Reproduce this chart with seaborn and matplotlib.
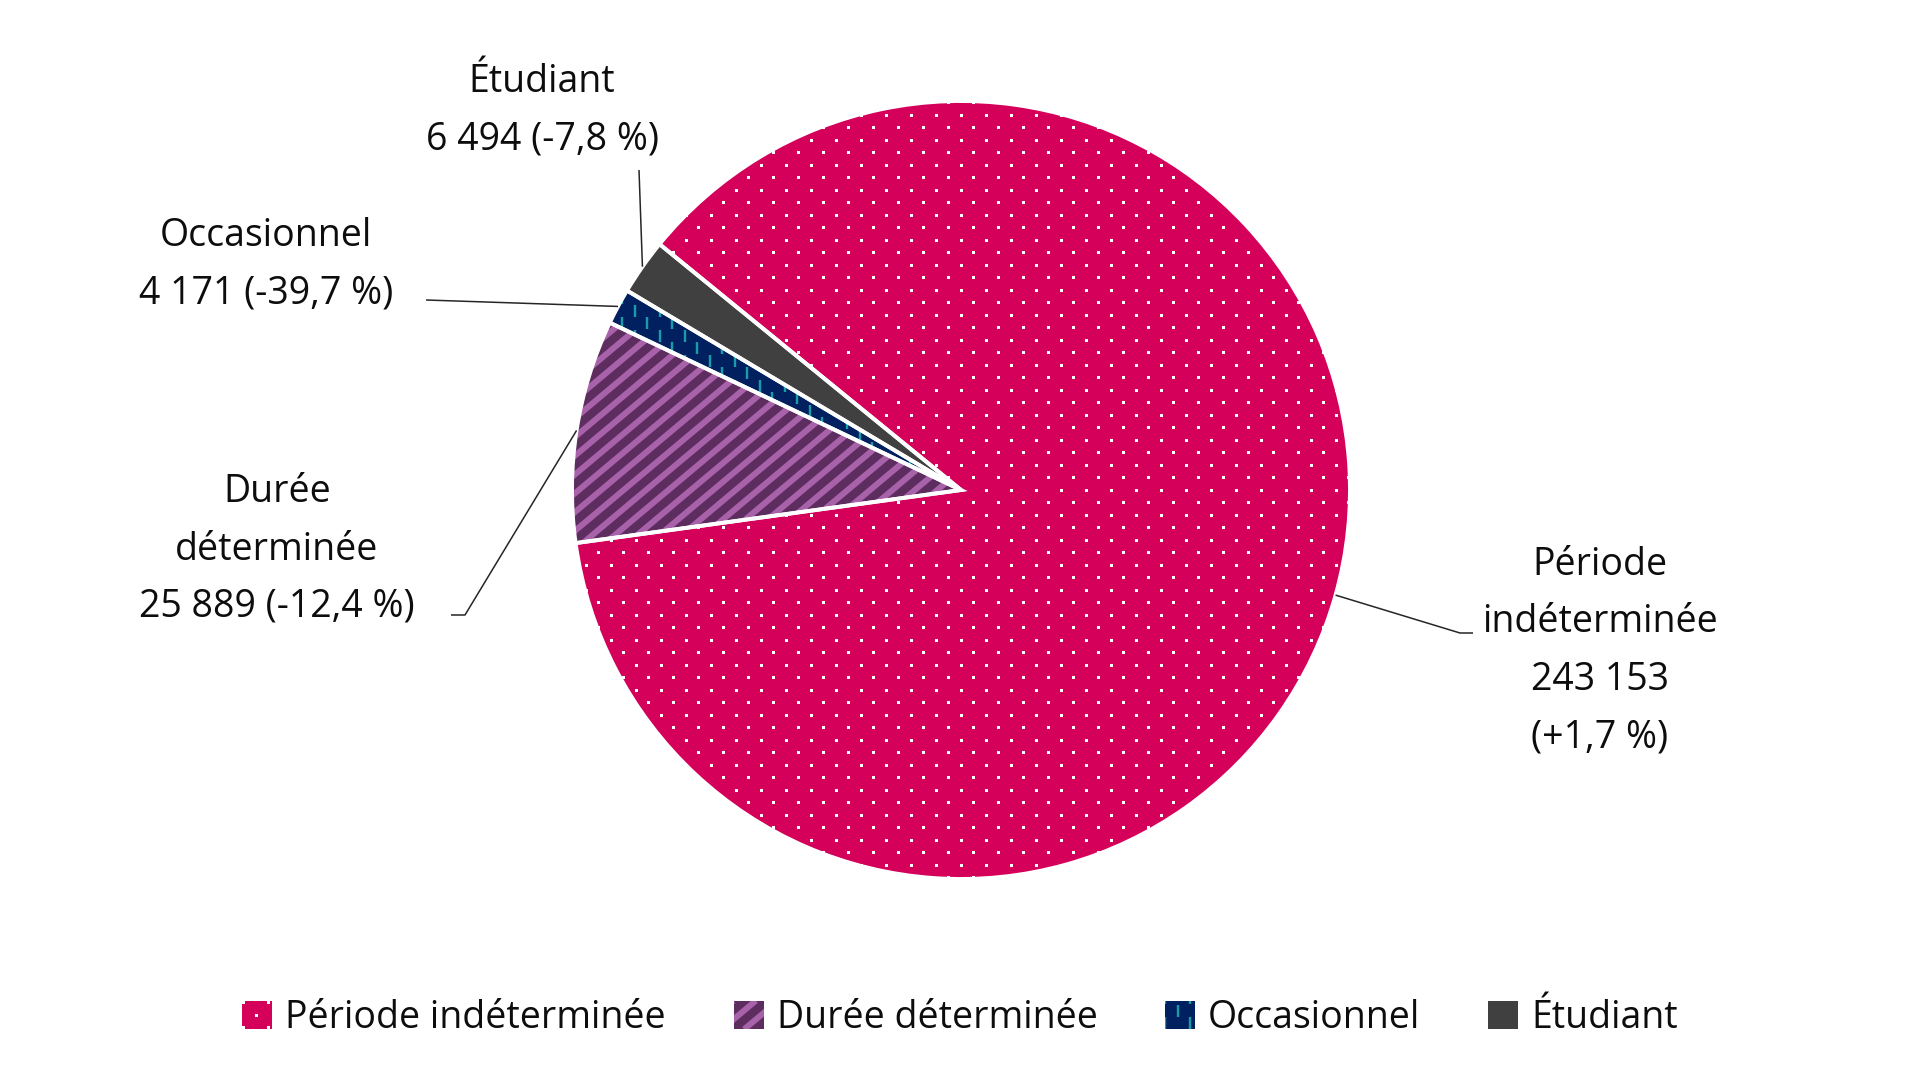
import numpy as np
import matplotlib
matplotlib.use("Agg")
import matplotlib.pyplot as plt
from matplotlib.collections import LineCollection, PolyCollection
from matplotlib.legend_handler import HandlerBase
from matplotlib.patches import Rectangle
import seaborn as sns

# données
categories = ["Période indéterminée", "Durée déterminée", "Occasionnel", "Étudiant"]
effectifs = [243153, 25889, 4171, 6494]
variations = ["+1,7 %", "-12,4 %", "-39,7 %", "-7,8 %"]

# styles
fill_colors = ["#D4005A", "#5C2D5E", "#002060", "#404040"]
texture_colors = ["#FFFFFF", "#A862AA", "#1A9BAA", None]
textures = ["dots", "stripes", "dashes", None]

W, H = 1920, 1080
FONT_SIZE = 27
LINE_STEP = 57.5  # px between baselines
PX = 72 / 100     # points per pixel


def fy(y):
    # pixel (y down) -> data (y up)
    return H - y


def fmt(v):
    return f"{v:,}".replace(",", " ")


def make_texture(kind, color, x0, y0, x1, y1, s=1.0):
    """Excel-like fill pattern inside a box, in px units scaled by s."""
    if kind == "dots":
        sy, sx, d = 12.5 * s, 25 * s, 3.0 * s
        polys = []
        for i, y in enumerate(np.arange(y0, y1 + sy, sy)):
            off = sx / 2 if i % 2 else 0
            for x in np.arange(x0 + off - sx, x1 + sx, sx):
                polys.append([(x, y), (x + d, y), (x + d, y + d), (x, y + d)])
        return PolyCollection(polys, facecolors=color, edgecolors="none", zorder=1.5)
    if kind == "stripes":
        ang = np.deg2rad(40)
        gap = 14.4 * s / np.sin(ang)
        run = (y1 - y0) / np.tan(ang)
        segs = [[(c, y0), (c + run, y1)] for c in np.arange(x0 - run - gap, x1 + gap, gap)]
        return LineCollection(segs, colors=color, linewidths=6 * PX, capstyle="butt",
                              zorder=1.5)
    if kind == "dashes":
        sx, sy, ln = 12.5 * s, 25 * s, 12 * s
        segs = []
        for j, x in enumerate(np.arange(x0, x1 + sx, sx)):
            off = sy / 2 if j % 2 else 0
            for y in np.arange(y0 + off - sy, y1 + sy, sy):
                segs.append([(x, y), (x, y + ln)])
        return LineCollection(segs, colors=color, linewidths=2.4 * PX, capstyle="butt",
                              zorder=1.5)
    return None


class Texture:
    def __init__(self, face, kind, color):
        self.face, self.kind, self.color = face, kind, color


class TextureHandler(HandlerBase):
    def create_artists(self, legend, orig_handle, xdescent, ydescent, width, height,
                       fontsize, trans):
        x0, y0 = -xdescent, -ydescent
        rect = Rectangle((x0, y0), width, height, facecolor=orig_handle.face,
                         edgecolor="none", transform=trans)
        arts = [rect]
        coll = make_texture(orig_handle.kind, orig_handle.color, x0, y0,
                            x0 + width, y0 + height, s=PX)
        if coll is not None:
            coll.set_transform(trans)
            coll.set_clip_path(rect)
            arts.append(coll)
        return arts


sns.set_theme(style="white")
plt.rcParams["font.family"] = ["Open Sans", "DejaVu Sans"]

fig = plt.figure(figsize=(19.2, 10.8), dpi=100)
ax = fig.add_axes([0, 0, 1, 1])

cx, cy, r = 961, 490, 389

wedges, _ = ax.pie(effectifs, colors=fill_colors, startangle=140.8, counterclock=False,
                   radius=r, center=(cx, fy(cy)), wedgeprops=dict(linewidth=0, zorder=1))
for w, kind, tc in zip(wedges, textures, texture_colors):
    coll = make_texture(kind, tc, cx - r, fy(cy) - r, cx + r, fy(cy) + r)
    if coll is not None:
        coll.set_clip_path(w)
        ax.add_collection(coll, autolim=False)

# white separators on top
ax.pie(effectifs, startangle=140.8, counterclock=False, radius=r, center=(cx, fy(cy)),
       wedgeprops=dict(fill=False, edgecolor="white", linewidth=2.8, zorder=3))

# labels
label_lines = [
    ["Période", "indéterminée", fmt(effectifs[0]), f"({variations[0]})"],
    ["Durée", "déterminée", f"{fmt(effectifs[1])} ({variations[1]})"],
    [categories[2], f"{fmt(effectifs[2])} ({variations[2]})"],
    [categories[3], f"{fmt(effectifs[3])} ({variations[3]})"],
]
label_pos = [(1600, 575), (277, 502), (266, 246), (542, 92)]
leader_pts = [
    [(1460, 633), (1473, 633)],
    [(465, 615), (451, 615)],
    [(426, 300)],
    [(639, 170)],
]

for w, lines, (lx, ly), pts in zip(wedges, label_lines, label_pos, leader_pts):
    for i, line in enumerate(lines):
        ax.text(lx, fy(ly + i * LINE_STEP), line, ha="center", va="baseline",
                fontsize=FONT_SIZE, color="#0D0D0D")
    a = np.deg2rad((w.theta1 + w.theta2) / 2)
    ex, ey = w.center[0] + r * np.cos(a), w.center[1] + r * np.sin(a)
    xs = [ex] + [p[0] for p in pts]
    ys = [ey] + [fy(p[1]) for p in pts]
    ax.plot(xs, ys, color="#262626", linewidth=1.1, solid_capstyle="butt", zorder=4)

# legend
handles = [Texture(fc, k, tc) for fc, k, tc in zip(fill_colors, textures, texture_colors)]
leg = ax.legend(handles, categories, loc="center", bbox_to_anchor=(960 / W, 1 - 1018 / H),
                ncol=4, frameon=False, fontsize=FONT_SIZE, handlelength=0.8,
                handleheight=0.8, handletextpad=0.35, columnspacing=1.8,
                handler_map={Texture: TextureHandler()})
for t in leg.get_texts():
    t.set_color("#0D0D0D")

ax.set_xlim(0, W)
ax.set_ylim(0, H)
ax.set_aspect("equal")
ax.set_axis_off()

fig.savefig("out.png", dpi=100)
